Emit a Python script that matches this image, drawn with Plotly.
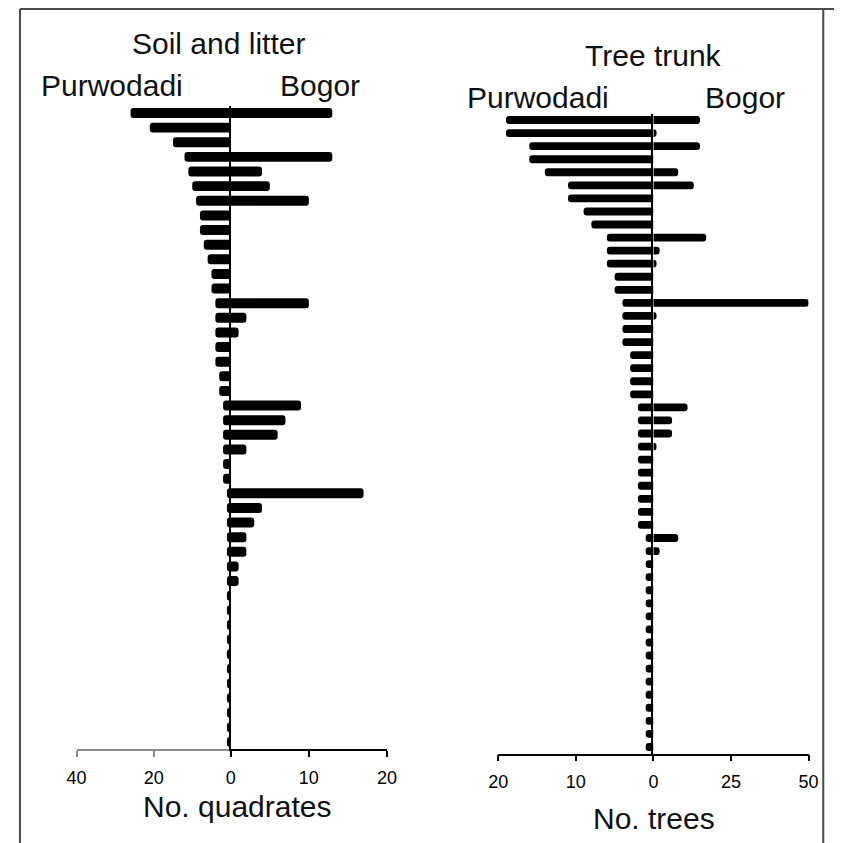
import plotly.graph_objects as go

# ---- data ----
soil_rank = list(range(1, 45))
soil_purwodadi = [26, 21, 15, 12, 11, 10, 9, 8, 8, 7, 6, 5, 5,
                  4, 4, 4, 4, 4, 3, 3, 2, 2, 2, 2, 2, 2,
                  1, 1, 1, 1, 1, 1, 1, 1, 1, 1, 1, 1, 1, 1, 1, 1, 1, 1]
soil_bogor = [13, 0, 0, 13, 4, 5, 10, 0, 0, 0, 0, 0, 0,
              10, 2, 1, 0, 0, 0, 0, 9, 7, 6, 2, 0, 0,
              17, 4, 3, 2, 2, 1, 1, 0, 0, 0, 0, 0, 0, 0, 0, 0, 0, 0]

tree_rank = list(range(1, 50))
tree_purwodadi = [19, 19, 16, 16, 14, 11, 11, 9, 8, 6, 6, 6, 5, 5,
                  4, 4, 4, 4, 3, 3, 3, 3,
                  2, 2, 2, 2, 2, 2, 2, 2, 2, 2,
                  1, 1, 1, 1, 1, 1, 1, 1, 1, 1, 1, 1, 1, 1, 1, 1, 1]
tree_bogor = [15, 1, 15, 0, 8, 13, 0, 0, 0, 17, 2, 1, 0, 0,
              50, 1, 0, 0, 0, 0, 0, 0,
              11, 6, 6, 1, 0, 0, 0, 0, 0, 0,
              8, 2, 0, 0, 0, 0, 0, 0, 0, 0, 0, 0, 0, 0, 0, 0, 0]

soil_p_ticks = [40, 20]
soil_b_ticks = [0, 10, 20]
tree_p_ticks = [20, 10]
tree_b_ticks = [0, 25, 50]

FONT = "Liberation Sans, Arial, sans-serif"
OFF = 8                      # default page margin around the plot div
W, H = 844 - OFF, 843 - OFF


def px(x):
    return (x - OFF) / W


def py(y):
    return 1 - (y - OFF) / H


fig = go.Figure()

bar_style = dict(orientation="h", marker=dict(color="black", cornerradius=3, line=dict(width=0)),
                 hoverinfo="x+y", showlegend=False)

fig.add_trace(go.Bar(x=soil_purwodadi, y=soil_rank, xaxis="x", yaxis="y", width=0.68, **bar_style))
fig.add_trace(go.Bar(x=soil_bogor, y=soil_rank, xaxis="x2", yaxis="y", width=0.68, **bar_style))
fig.add_trace(go.Bar(x=tree_purwodadi, y=tree_rank, xaxis="x3", yaxis="y2", width=0.6, **bar_style))
fig.add_trace(go.Bar(x=tree_bogor, y=tree_rank, xaxis="x4", yaxis="y2", width=0.6, **bar_style))

tickfont = dict(family=FONT, size=18, color="black")
xcommon = dict(showgrid=False, zeroline=False, showline=True, ticks="outside", ticklen=6,
               tickfont=tickfont, ticklabelstandoff=5, fixedrange=True)

fig.update_layout(
    width=W, height=H,
    margin=dict(l=0, r=0, t=0, b=0),
    paper_bgcolor="white", plot_bgcolor="white",
    barmode="overlay",
    xaxis=dict(domain=[px(68), px(226)], anchor="y", range=[40, 0], tickvals=soil_p_ticks,
               linecolor="#8a8a8a", linewidth=2, tickcolor="#8a8a8a", tickwidth=2, **xcommon),
    xaxis2=dict(domain=[px(226), px(386)], anchor="y", range=[0, 20], tickvals=soil_b_ticks,
                linecolor="black", linewidth=1.5, tickcolor="black", tickwidth=1.5, **xcommon),
    xaxis3=dict(domain=[px(500), px(659)], anchor="y2", range=[20, 0], tickvals=tree_p_ticks,
                linecolor="black", linewidth=1.5, tickcolor="black", tickwidth=1.5, **xcommon),
    xaxis4=dict(domain=[px(659), px(818)], anchor="y2", range=[0, 50], tickvals=tree_b_ticks,
                linecolor="black", linewidth=1.5, tickcolor="black", tickwidth=1.5, **xcommon),
    yaxis=dict(domain=[py(749.3), py(105.7)], anchor="x2", range=[44.5, 0.5],
               showgrid=False, zeroline=False, showline=True, linecolor="black", linewidth=1.5,
               showticklabels=False, ticks="", fixedrange=True),
    yaxis2=dict(domain=[py(753.5), py(113.5)], anchor="x4", range=[49.5, 0.5],
                showgrid=False, zeroline=False, showline=True, linecolor="black", linewidth=1.5,
                showticklabels=False, ticks="", fixedrange=True),
)

labels = [
    ("Soil and litter", 213, 43, 30),
    ("Purwodadi", 104, 85, 30),
    ("Bogor", 317, 85, 30),
    ("Tree trunk", 659, 56, 30),
    ("Purwodadi", 541, 97, 30),
    ("Bogor", 753, 97, 30),
    ("No. quadrates", 232, 806, 30),
    ("No. trees", 660, 818, 30),
]
for text, x, y, size in labels:
    fig.add_annotation(text=text, x=px(x), y=py(y), xref="paper", yref="paper",
                       xanchor="center", yanchor="middle", showarrow=False,
                       font=dict(family=FONT, size=size, color="#111111"))

frame = dict(type="line", xref="paper", yref="paper", line=dict(color="#4a4a4a", width=2))
fig.add_shape(x0=px(10), x1=1, y0=py(9), y1=py(9), **frame)
fig.add_shape(x0=px(10), x1=px(10), y0=py(9), y1=0, **frame)
fig.add_shape(x0=px(833), x1=px(833), y0=py(9), y1=0, **frame)

fig.write_html("out.html")
